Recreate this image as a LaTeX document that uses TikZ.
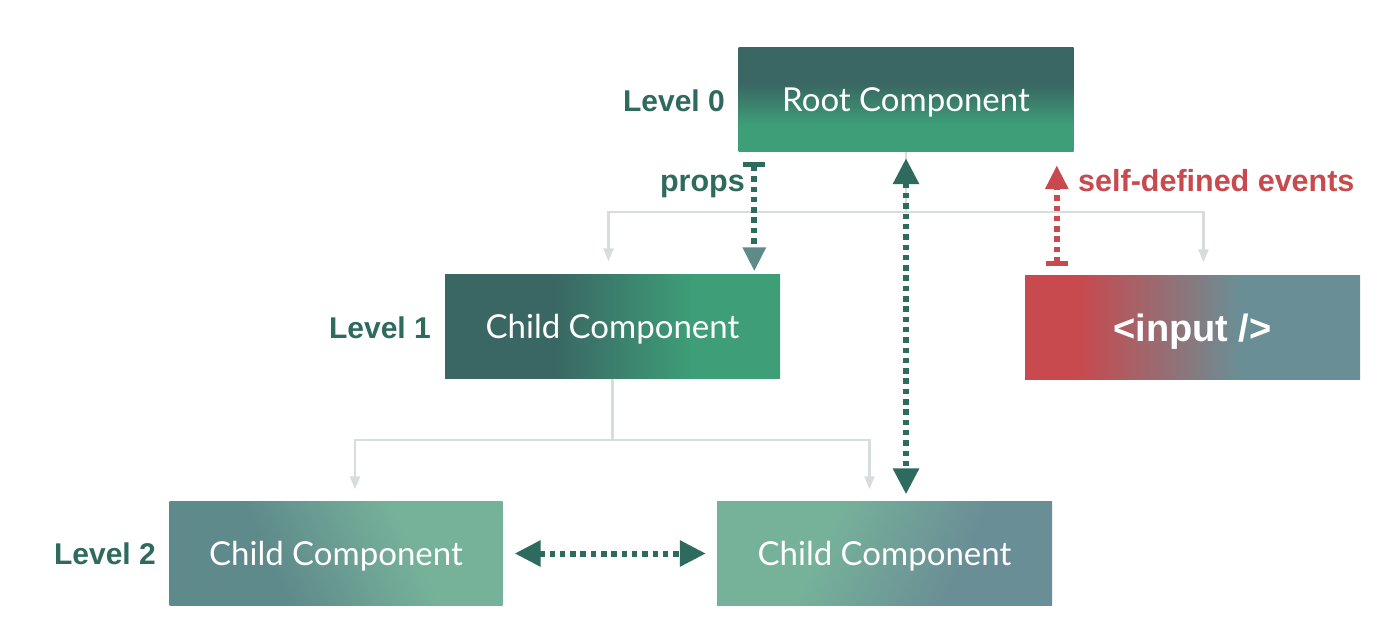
\documentclass[tikz,border=0pt]{standalone}
\usepackage{fontspec}
\setmainfont{Lato}
\newfontfamily\lblfont{Liberation Sans}
\usetikzlibrary{arrows.meta}
\definecolor{dkgreen}{HTML}{3A6663}
\definecolor{cgreen}{HTML}{3D9E78}
\definecolor{ltgreen}{HTML}{76B29A}
\definecolor{grayteal}{HTML}{5F8A8B}
\definecolor{slate}{HTML}{6A8E95}
\definecolor{cred}{HTML}{C8494E}
\definecolor{lblgreen}{HTML}{2E6B5E}
\definecolor{treegray}{HTML}{D6DDDC}
\definecolor{tipteal}{HTML}{5E8A8A}
\pgfdeclareverticalshading{rootshade}{100bp}{color(0bp)=(cgreen); color(38bp)=(cgreen); color(58bp)=(dkgreen); color(100bp)=(dkgreen)}
\pgfdeclarehorizontalshading{childshade}{100bp}{color(0bp)=(dkgreen); color(41bp)=(dkgreen); color(62bp)=(cgreen); color(100bp)=(cgreen)}
\pgfdeclarehorizontalshading{inputshade}{100bp}{color(0bp)=(cred); color(33bp)=(cred); color(57bp)=(slate); color(100bp)=(slate)}
\pgfdeclarehorizontalshading{leftshade}{100bp}{color(0bp)=(grayteal); color(38bp)=(grayteal); color(64bp)=(ltgreen); color(100bp)=(ltgreen)}
\pgfdeclarehorizontalshading{rightshade}{100bp}{color(0bp)=(ltgreen); color(38bp)=(ltgreen); color(64bp)=(slate); color(100bp)=(slate)}
\begin{document}
\begin{tikzpicture}[x=1pt,y=-1pt,
  box/.style={minimum width=335pt, minimum height=104pt, inner sep=0pt,
    text=white, font=\fontsize{33}{40}\selectfont, text height=23.7pt, text depth=0pt},
  lvl/.style={text=lblgreen, font=\lblfont\bfseries\fontsize{30}{36}\selectfont, anchor=base east, inner sep=0pt},
  arrlbl/.style={font=\lblfont\bfseries\fontsize{30.5}{36}\selectfont, inner sep=0pt},
  tree/.style={draw=treegray, line width=2.5pt},
  treearr/.style={tree, -{Triangle[width=10pt,length=13pt]}},
  dotline/.style={line width=6pt, dash pattern=on 5.5pt off 4.8pt},
]
\useasboundingbox[fill=white] (0,0) rectangle (1400,631);

% boxes
\node[box, shading=rootshade] (root) at (906,100) {Root Component};
\node[box, shading=childshade] (c1) at (612.5,326.5) {Child Component};
\node[box, shading=inputshade, font=\lblfont\bfseries\fontsize{38}{44}\selectfont, text height=27.5pt] (inp) at (1192.5,327.5) {<input />};
\node[box, minimum width=333pt, shading=leftshade, shading angle=25] (c2a) at (336,553.5) {Child Component};
\node[box, shading=rightshade, shading angle=-25] (c2b) at (884.5,553.5) {Child Component};

% level labels
\node[lvl] (l0) at (725,112) {Level 0};
\node[lvl] (l1) at (431,338) {Level 1};
\node[lvl] (l2) at (156,564) {Level 2};

% tree lines
\coordinate (j0) at (906,212);
\coordinate (j1) at (612.5,440);
\draw[tree] (root.south) -- (j0);
\draw[treearr, shorten >=13pt] (j0) -| ([xshift=-4pt]c1.north);
\draw[treearr, shorten >=13pt] (j0) -| ([xshift=11pt]inp.north);
\draw[tree] (c1.south) -- (j1);
\draw[treearr, shorten >=12pt] (j1) -| ([xshift=19pt]c2a.north);
\draw[treearr, shorten >=12pt] (j1) -| ([xshift=-15pt]c2b.north);

% labels for arrows
\node[arrlbl, text=lblgreen, anchor=base east] (props) at (745,192) {props};
\node[arrlbl, text=cred, anchor=base west] (sde) at (1078,192) {self-defined events};

% props arrow
\coordinate (pa) at ([xshift=16pt]root.south west);
\draw[dotline, draw=lblgreen, {Bar[width=22pt,line width=5pt,color=lblgreen]}-{Triangle[width=22pt,length=24pt,color=tipteal]},
  shorten <=10pt, shorten >=3pt] (pa) -- (pa |- c1.north);

% root <-> level2 right
\draw[dotline, draw=lblgreen, {Triangle[width=25pt,length=26pt]}-{Triangle[width=25pt,length=26pt]},
  shorten <=6pt, shorten >=7pt] (root.south) -- (root.south |- c2b.north);

% self-defined events arrow
\coordinate (ia) at ([xshift=32pt]inp.north west);
\draw[dotline, draw=cred, {Bar[width=22pt,line width=5pt]}-{Triangle[width=22pt,length=24pt]},
  shorten <=9pt, shorten >=13pt] (ia) -- (ia |- root.south);

% level2 siblings
\draw[dotline, draw=lblgreen, {Triangle[width=25pt,length=26pt]}-{Triangle[width=25pt,length=26pt]},
  shorten <=12pt, shorten >=11pt] (c2a.east) -- (c2b.west);
\end{tikzpicture}
\end{document}
